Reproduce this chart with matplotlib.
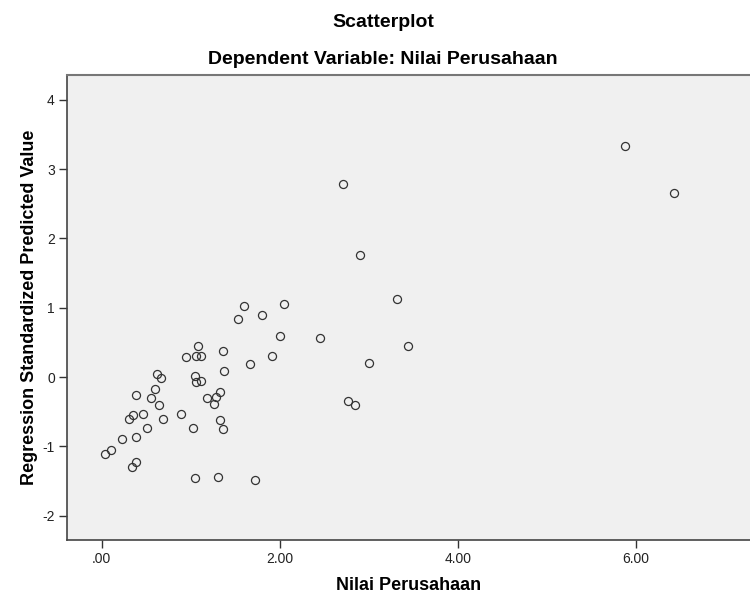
import matplotlib
matplotlib.use('Agg')
import matplotlib.pyplot as plt
from matplotlib.ticker import FuncFormatter

plt.rcParams['font.family'] = ['Liberation Sans', 'DejaVu Sans']
plt.rcParams['axes.unicode_minus'] = False

# values
nilai_perusahaan = [
    5.88, 6.43, 2.71, 2.90, 3.32, 2.45, 3.44, 3.00, 2.77, 2.85,
    1.60, 1.53, 1.80, 2.05, 2.00, 1.91, 1.36, 1.66, 1.37, 1.33,
    1.33, 1.36, 1.31, 1.72, 1.08, 0.95, 1.06, 1.12, 0.62, 0.67,
    1.05, 1.06, 1.12, 0.60, 0.39, 0.55, 1.18, 1.28, 1.26, 0.64,
    0.35, 0.31, 0.46, 0.69, 0.89, 1.02, 0.51, 0.23, 0.38, 0.11,
    0.04, 0.39, 0.34, 1.05,
]
std_predicted = [
    3.33, 2.65, 2.78, 1.76, 1.13, 0.56, 0.45, 0.20, -0.34, -0.40,
    1.03, 0.84, 0.90, 1.06, 0.59, 0.30, 0.37, 0.19, 0.08, -0.21,
    -0.62, -0.75, -1.44, -1.48, 0.44, 0.29, 0.31, 0.30, 0.04, -0.01,
    0.01, -0.07, -0.06, -0.17, -0.26, -0.30, -0.31, -0.29, -0.39, -0.40,
    -0.55, -0.60, -0.54, -0.61, -0.53, -0.73, -0.74, -0.90, -0.87, -1.05,
    -1.11, -1.23, -1.30, -1.45,
]
x_ticks = [0, 2, 4, 6]
y_ticks = [-2, -1, 0, 1, 2, 3, 4]

fig = plt.figure(figsize=(7.5, 6.01), dpi=100)
ax = fig.add_axes([0.0889, 0.1015, 0.9111, 0.7737])
ax.set_facecolor('#f0f0f0')

ax.plot(nilai_perusahaan, std_predicted, linestyle='none', marker='o',
        markersize=5.8, markerfacecolor='none', markeredgecolor='#333333',
        markeredgewidth=0.9)

ax.set_xlim(-0.393, 7.28)
ax.set_ylim(-2.351, 4.356)
ax.set_xticks(x_ticks)
ax.set_yticks(y_ticks)


def spss_fmt(v, pos):
    s = '%.2f' % v
    if s.startswith('0'):
        s = s[1:]
    return s


ax.xaxis.set_major_formatter(FuncFormatter(spss_fmt))
ax.tick_params(axis='both', direction='out', length=5.5, width=1,
               color='#333333', labelsize=10, labelcolor='#222222', pad=3)

for side in ['left', 'bottom']:
    ax.spines[side].set_color('#444444')
    ax.spines[side].set_linewidth(1.2)
ax.spines['top'].set_color('#777777')
ax.spines['top'].set_linewidth(1.5)
ax.spines['right'].set_visible(False)

ax.set_xlabel('Nilai Perusahaan', fontsize=13, fontweight='bold', labelpad=8)
ax.set_ylabel('Regression Standardized Predicted Value', fontsize=13,
              fontweight='bold', labelpad=3)

fig.text(383 / 750, 1 - 22.5 / 601, 'Scatterplot', ha='center',
         va='center', fontsize=14, fontweight='bold')
fig.text(383 / 750, 1 - 59 / 601, 'Dependent Variable: Nilai Perusahaan',
         ha='center', va='center', fontsize=14, fontweight='bold')

plt.savefig('out.png', dpi=100)
